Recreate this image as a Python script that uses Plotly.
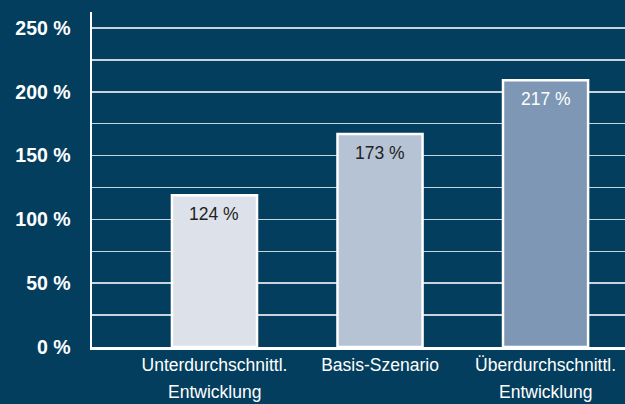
import plotly.graph_objects as go

categories_line1 = ["Unterdurchschnittl.", "Basis-Szenario", "Überdurchschnittl."]
categories_line2 = ["Entwicklung", "", "Entwicklung"]
bar_heights = [119, 167, 209]
value_labels = ["124 %", "173 %", "217 %"]
bar_colors = ["#dde1ea", "#b6c3d5", "#7d97b4"]
text_colors = ["#222222", "#222222", "#ffffff"]
y_ticks = [0, 50, 100, 150, 200, 250]

BG = "#043e5e"
FONT = "Liberation Sans, Arial, sans-serif"
xs = list(range(len(categories_line1)))

fig = go.Figure()
fig.add_trace(go.Bar(
    x=xs, y=bar_heights, width=0.514,
    marker=dict(color=bar_colors, line=dict(color="white", width=2.5)),
    hoverinfo="skip",
))

for x, h, lbl, c in zip(xs, bar_heights, value_labels, text_colors):
    fig.add_annotation(x=x, y=h, xref="x", yref="y", yanchor="top", yshift=-7,
                       text=lbl, showarrow=False,
                       font=dict(family=FONT, size=17.5, color=c))

for x, t in zip(xs, categories_line2):
    if t:
        fig.add_annotation(x=x, y=0, xref="x", yref="y", yshift=-45,
                           text=t, showarrow=False,
                           font=dict(family=FONT, size=17.5, color="white"))

fig.update_layout(
    width=625, height=404,
    margin=dict(l=92, r=0, t=12, b=57, autoexpand=False),
    paper_bgcolor=BG, plot_bgcolor=BG,
    showlegend=False, bargap=0, hovermode=False,
    font=dict(family=FONT, color="white"),
)
fig.update_xaxes(
    range=[-0.74, 2.48], tickvals=xs, ticktext=categories_line1,
    showgrid=False, zeroline=False, automargin=False,
    showline=True, linecolor="white", linewidth=2.5,
    tickfont=dict(family=FONT, size=17.5, color="white"),
    ticks="",
)
fig.update_yaxes(
    range=[0, 262.5], tickvals=y_ticks, ticktext=[f"{v} %" for v in y_ticks],
    showgrid=True, gridcolor="#c9d3dc", gridwidth=1.5,
    minor=dict(dtick=25, showgrid=True, gridcolor="#c9d3dc", gridwidth=1.5),
    zeroline=False, automargin=False,
    showline=True, linecolor="white", linewidth=2.5,
    tickfont=dict(family=FONT, size=19.5, color="white", weight="bold"),
    ticks="outside", ticklen=15, tickcolor="rgba(0,0,0,0)",
)

page_fix = ("document.body.style.margin='0';"
            "document.body.style.padding='0';"
            "document.body.style.overflow='hidden';"
            "document.body.style.background='" + BG + "';")

fig.write_html("out.html", post_script=page_fix,
               config={"displayModeBar": False, "staticPlot": True})
